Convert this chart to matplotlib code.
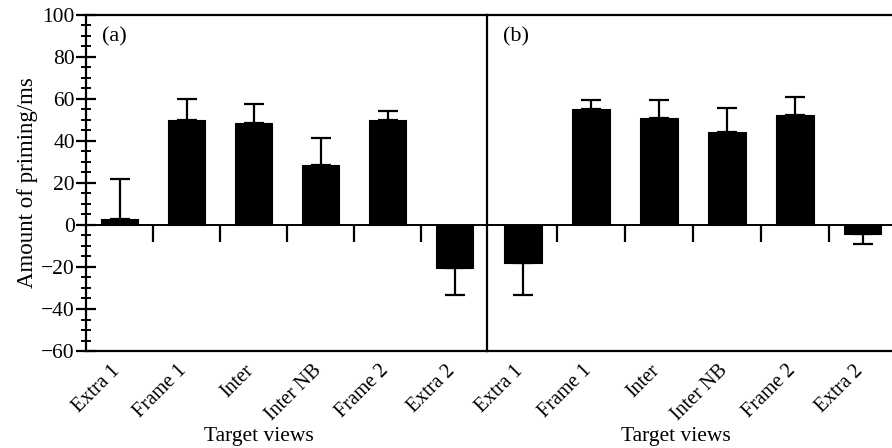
import matplotlib
matplotlib.use("Agg")
import matplotlib.pyplot as plt
from matplotlib.ticker import MultipleLocator
from matplotlib.transforms import ScaledTranslation
import numpy as np

categories = ["Extra 1", "Frame 1", "Inter", "Inter NB", "Frame 2", "Extra 2"]
values_a = [3, 50, 48.5, 28.7, 50, -20.3]
errors_a = [19, 10, 9, 12.9, 4.4, 13]
values_b = [-18.3, 55, 50.8, 44.4, 52.2, -4.3]
errors_b = [15, 4.4, 8.6, 11.5, 8.6, 4.7]
panel_labels = ["(a)", "(b)"]
yticks = [-60, -40, -20, 0, 20, 40, 60, 80, 100]

plt.rcParams['font.family'] = ['Liberation Serif', 'DejaVu Serif']
plt.rcParams['font.size'] = 15

fig = plt.figure(figsize=(8.92, 4.48), dpi=100)
W, H = 892, 448
axA = fig.add_axes([86 / W, 97 / H, 401 / W, 336 / H])
axB = fig.add_axes([487 / W, 97 / H, 405 / W, 336 / H])

x = np.arange(len(categories))

def draw(ax, vals, errs, label, xlim, show_y, xlab_x):
    vals = np.array(vals)
    errs = np.array(errs)
    lower = np.where(vals < 0, errs, 0)
    upper = np.where(vals >= 0, errs, 0)
    ax.bar(x, vals, width=0.55, color='black', edgecolor='black', linewidth=0.8,
           zorder=3)
    ax.errorbar(x, vals, yerr=[lower, upper], fmt='none', ecolor='black',
                elinewidth=1.6, capsize=7.5, capthick=1.6, zorder=2)
    ax.set_xlim(*xlim)
    ax.set_ylim(-60, 100)
    ax.set_xticks(x)
    ax.set_xticklabels(categories, rotation=45, ha='right', rotation_mode='anchor',
                       fontsize=14.5)
    ax.tick_params(axis='x', length=0, pad=9)
    off = ScaledTranslation(-9 / 100, 2 / 100, fig.dpi_scale_trans)
    for t in ax.get_xticklabels():
        t.set_transform(t.get_transform() + off)
    for s in ['top', 'bottom', 'left']:
        ax.spines[s].set_linewidth(1.6)
    ax.spines['right'].set_visible(False)
    ax.set_xlabel("Target views", fontsize=15.5)
    ax.xaxis.set_label_coords(xlab_x, -0.226)
    # zero line with boundary ticks
    frac0 = (0 - (-60)) / 160
    sec = ax.secondary_xaxis(frac0)
    sec.set_xticks(x[:-1] + 0.5)
    sec.set_xticklabels([])
    sec.tick_params(axis='x', direction='out', length=12.5, width=1.6)
    sec.spines['bottom'].set_linewidth(1.2)
    ax.axhline(0, color='black', linewidth=1.2, zorder=1)
    ax.text(0.04, 0.965, label, transform=ax.transAxes, va='top', ha='left',
            fontsize=16)
    if show_y:
        ax.set_yticks(yticks)
        ax.yaxis.set_minor_locator(MultipleLocator(5))
        ax.tick_params(axis='y', which='major', direction='inout', length=14,
                       width=1.6, labelsize=15.5, pad=1)
        ax.tick_params(axis='y', which='minor', direction='inout', length=7,
                       width=1.4)
        ax.set_ylabel("Amount of priming/ms", labelpad=2, fontsize=16.5)
    else:
        ax.set_yticks([0])
        ax.set_yticklabels([])
        ax.tick_params(axis='y', direction='inout', length=6, width=1.2)

draw(axA, values_a, errors_a, panel_labels[0], (-0.5, 5.48), True, 0.431)
draw(axB, values_b, errors_b, panel_labels[1], (-0.53, 5.43), False, 0.467)

fig.savefig("out.png", dpi=100)
